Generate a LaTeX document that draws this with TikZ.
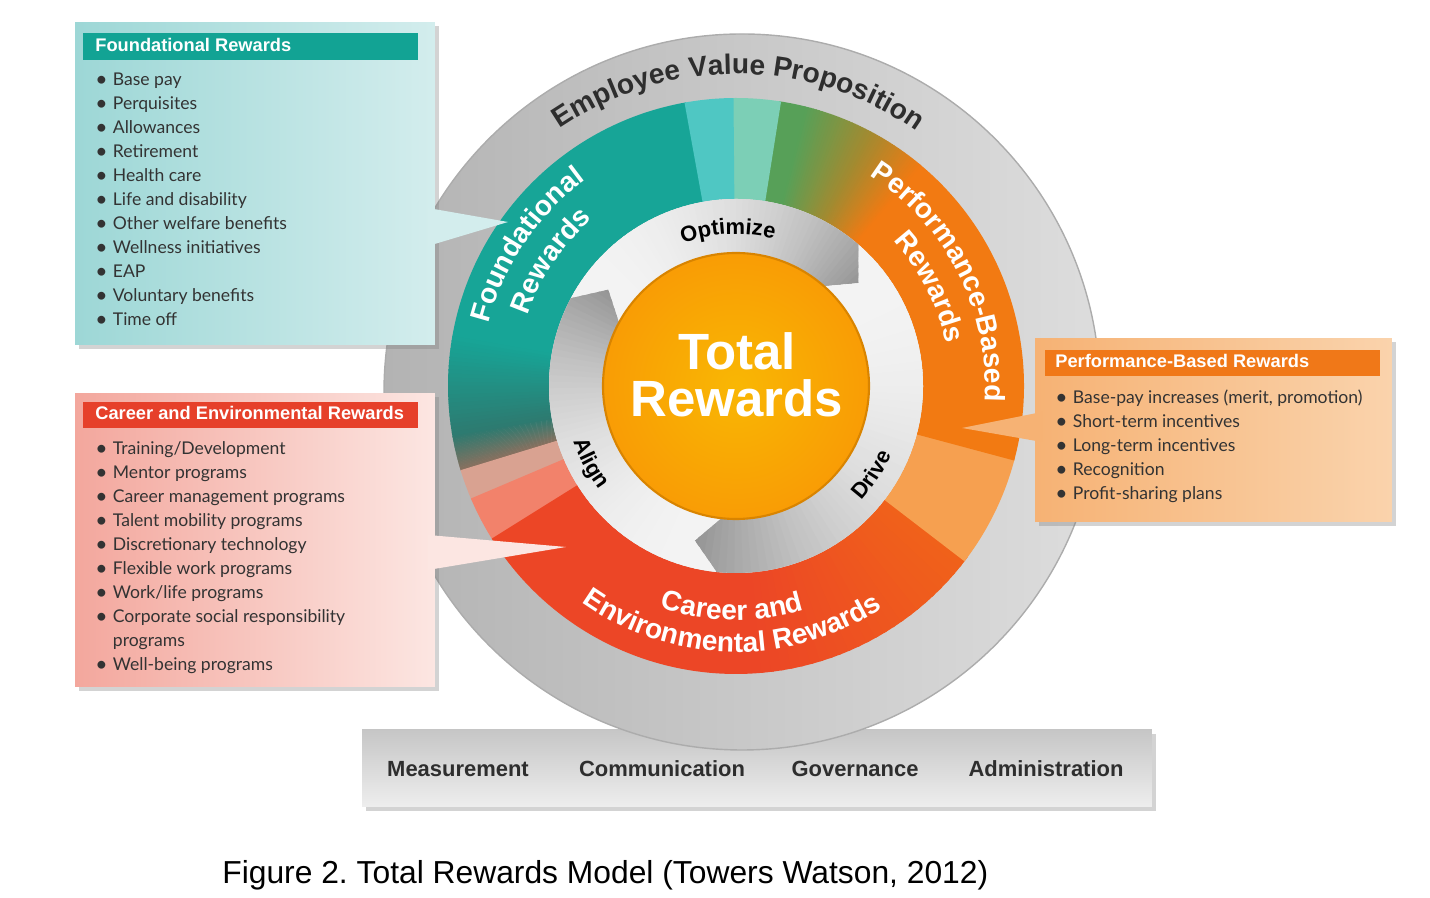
\documentclass[tikz,border=0pt]{standalone}
\usepackage{fontspec}
\setmainfont{Liberation Sans}
\newfontfamily\listfont{Lato}
\usetikzlibrary{positioning}
\usetikzlibrary{shadows}
\usetikzlibrary{decorations.text}

\definecolor{tealring}{HTML}{17A597}
\definecolor{tealdark}{HTML}{2D7A70}
\definecolor{brownring}{HTML}{88705F}
\definecolor{dustpink}{HTML}{D9A291}
\definecolor{salmonring}{HTML}{F2826B}
\definecolor{redring}{HTML}{EC4626}
\definecolor{orangered}{HTML}{F0621A}
\definecolor{lightorange}{HTML}{F6A050}
\definecolor{orangering}{HTML}{F27A12}
\definecolor{olivering}{HTML}{A38A30}
\definecolor{greenring}{HTML}{57A058}
\definecolor{mintring}{HTML}{7CCFB6}
\definecolor{lightteal}{HTML}{4FC7C3}
\definecolor{coreorange}{HTML}{F8AA05}
\definecolor{corerim}{HTML}{D98400}
\definecolor{cyclight}{HTML}{F3F3F3}
\definecolor{cycdark}{HTML}{929292}
\definecolor{outerL}{HTML}{B3B3B3}
\definecolor{outerR}{HTML}{DDDDDD}
\definecolor{inkgray}{HTML}{2E2E2E}
\definecolor{listink}{HTML}{333333}
\definecolor{fboxL}{HTML}{9DD7D6}
\definecolor{fboxR}{HTML}{D3EDED}
\definecolor{fhead}{HTML}{12A394}
\definecolor{cboxL}{HTML}{F3A79D}
\definecolor{cboxR}{HTML}{FCE6E2}
\definecolor{chead}{HTML}{E6402A}
\definecolor{pboxL}{HTML}{F6B274}
\definecolor{pboxR}{HTML}{FAD3AC}
\definecolor{phead}{HTML}{F07818}
\definecolor{barTop}{HTML}{C6C6C6}
\definecolor{barBot}{HTML}{EEEEEE}

\newcommand\ringfont{\fontsize{16}{16}\selectfont\bfseries}
\newcommand\evpfont{\fontsize{16}{16}\selectfont\bfseries}
\newcommand\cyclefont{\fontsize{12.5}{12.5}\selectfont\bfseries}
\newcommand\itm[1]{\makebox[10pt][l]{\raisebox{-0.4pt}{\fontsize{12}{12}\selectfont\textbullet}}#1}
\newcommand\cont[1]{\hspace*{10pt}#1}

% annular sector: from angle, to angle, outer r, inner r, colour
\newcommand\band[5]{\fill[#5] (#1:#3) arc[start angle=#1, end angle=#2, radius=#3] -- (#2:#4) arc[start angle=#2, end angle=#1, radius=#4] -- cycle;}
% same, fading from one colour to another
\newcommand\bandfade[6]{%
  \foreach \k in {0,...,23}{%
    \pgfmathsetmacro\angA{#1+(#2-#1)*\k/24}%
    \pgfmathsetmacro\angB{#1+(#2-#1)*(\k+1.3)/24}%
    \pgfmathtruncatemacro\pp{100-100*(\k+0.5)/24}%
    \band{\angA}{\angB}{#3}{#4}{#5!\pp!#6}%
  }}
% one arrow of the inner cycle: tail angle, head angle (clockwise)
\newcommand\cycleseg[2]{%
  \begin{scope}
    \clip (#1:187) arc[start angle=#1, end angle=#2, radius=187] -- (#2-9:160) -- (#2:132) arc[start angle=#2, end angle=#1, radius=132] -- (#1-9:160) -- cycle;
    \foreach \k in {0,...,59}{%
      \pgfmathsetmacro\angA{#1+(#2-10-#1)*\k/60}%
      \pgfmathsetmacro\angB{#1+(#2-10-#1)*(\k+1.4)/60}%
      \pgfmathtruncatemacro\pp{100*((\k+0.5)/60)^2.4}%
      \band{\angA}{\angB}{190}{128}{cycdark!\pp!cyclight}%
    }
  \end{scope}}

\tikzset{
  infobox/.style={rectangle, inner sep=0pt, drop shadow={opacity=0.35, shadow xshift=2.5pt, shadow yshift=-2.5pt}},
  headbar/.style={rectangle, inner sep=0pt, minimum width=6.7cm, minimum height=0.53cm},
  headtext/.style={anchor=base west, inner sep=0pt, text=white, font=\fontsize{10.4}{11}\selectfont\bfseries},
  itemline/.style={anchor=base west, inner sep=0pt, text=listink, font=\listfont\fontsize{10}{12}\selectfont},
  basebar/.style={rectangle, inner sep=0pt, minimum width=15.8cm, minimum height=1.54cm, top color=barTop, bottom color=barBot, drop shadow={opacity=0.35, shadow xshift=2.5pt, shadow yshift=-2.5pt}},
  barlabel/.style={anchor=base, inner sep=0pt, text=inkgray, font=\fontsize{12.5}{13}\selectfont\bfseries},
  figcaption/.style={anchor=base west, inner sep=0pt, text=black, font=\fontsize{18.1}{20}\selectfont\frenchspacing},
  corelabel/.style={anchor=base, inner sep=0pt, text=white, font=\fontsize{29}{29}\selectfont\bfseries},
  ringtext/.style={decorate, decoration={text along path, text align=center, text color=white, text={|\ringfont|#1}}},
  cycletext/.style={decorate, decoration={text along path, text align=center, text color=black, text={|\cyclefont|#1}}},
  evptext/.style={decorate, decoration={text along path, text align=center, text color=inkgray, text={|\evpfont|#1}}}
}

\begin{document}
\begin{tikzpicture}[x=0.02cm, y=0.02cm]
  \useasboundingbox (0,0) rectangle (1430,898);

  % base bar
  \node[basebar] (bar) at (757,129.5) {};

  % outer ring
  \begin{scope}[shift={(742,506)}]
    \shade[left color=outerL, right color=outerR] (0,0) circle[radius=358];
    \draw[gray!65, line width=0.8] (0,0) circle[radius=358];
  \end{scope}

  \begin{scope}[shift={(736,512)}]
    % coloured ring
    \band{100}{170.5}{288}{187}{tealring}
    \bandfade{170}{190}{288}{187}{tealring}{tealdark}
    \bandfade{190}{197}{288}{187}{tealdark}{brownring}
    \band{197}{203.5}{288}{187}{dustpink}
    \band{203}{212.5}{288}{187}{salmonring}
    \band{212}{275.5}{288}{187}{redring}
    \bandfade{275}{323}{288}{187}{redring}{orangered}
    \band{322.5}{345.5}{288}{187}{lightorange}
    \band{345}{410.5}{288}{187}{orangering}
    \bandfade{410}{422}{288}{187}{orangering}{olivering}
    \bandfade{422}{436}{288}{187}{olivering}{greenring}
    \band{436}{441.5}{288}{187}{greenring}
    \band{441}{450.8}{288}{187}{mintring}
    \band{450.5}{460.3}{288}{187}{lightteal}

    % inner cycle
    \fill[cyclight!80!cycdark] (0,0) circle[radius=187];
    \cycleseg{152}{49}
    \cycleseg{49}{-96}
    \cycleseg{264}{152}

    % core
    \shade[inner color=coreorange!85!yellow, outer color=coreorange!92!red] (0,0) circle[radius=133];
    \draw[corerim, line width=1.2] (0,0) circle[radius=133];
    \node[corelabel] (total) at (1,16) {Total};
    \node[corelabel] (rewards) at (1,-31) {Rewards};

    % curved labels
    \path[evptext={Employee Value Proposition}] (150:312) arc[start angle=150, end angle=29, radius=312];
    \path[ringtext=Foundational] (176:255) arc[start angle=176, end angle=116, radius=255];
    \path[ringtext=Rewards] (176:220) arc[start angle=176, end angle=116, radius=220];
    \path[ringtext=Performance-Based] (72:249) arc[start angle=72, end angle=-18, radius=249];
    \path[ringtext=Rewards] (72:214) arc[start angle=72, end angle=-18, radius=214];
    \path[ringtext={Career and}] (-151:234) arc[start angle=-151, end angle=-31, radius=234];
    \path[ringtext={Environmental Rewards}] (-151:266) arc[start angle=-151, end angle=-31, radius=266];
    \path[cycletext=Optimize] (123:152) arc[start angle=123, end angle=63, radius=152];
    \path[cycletext=Align] (178:172) arc[start angle=178, end angle=238, radius=172];
    \path[cycletext=Drive] (-63:170) arc[start angle=-63, end angle=-3, radius=170];
  \end{scope}

  % bar labels
  \node[barlabel] (meas) at (458,121) {Measurement};
  \node[barlabel] (comm) at (662,121) {Communication};
  \node[barlabel] (gov) at (855,121) {Governance};
  \node[barlabel] (admin) at (1046,121) {Administration};

  % foundational box
  \node[infobox, left color=fboxL, right color=fboxR, minimum width=7.2cm, minimum height=6.46cm] (fbox) at (255,714.5) {};
  \coordinate (ftip) at (508,676);
  \coordinate (fbaseA) at (428,690);
  \coordinate (fbaseB) at (428,652);
  \fill[fboxR] (fbaseA) -- (ftip) -- (fbaseB) -- cycle;
  \node[headbar, fill=fhead] (fhead) at (250.5,851.5) {};
  \node[headtext] (ftitle) at (95,846) {Foundational Rewards};
  \foreach \t [count=\i] in {Base pay, Perquisites, Allowances, Retirement, Health care, Life and disability, Other welfare benefits, Wellness initiatives, EAP, Voluntary benefits, Time off}
    \node[itemline] (fitem\i) at (95,{812-24*(\i-1)}) {\itm{\t}};

  % career box
  \node[infobox, left color=cboxL, right color=cboxR, minimum width=7.2cm, minimum height=5.88cm] (cbox) at (255,358) {};
  \coordinate (ctip) at (566,351);
  \coordinate (cbaseA) at (428,363);
  \coordinate (cbaseB) at (428,328);
  \fill[cboxR] (cbaseA) -- (ctip) -- (cbaseB) -- cycle;
  \node[headbar, fill=chead] (chead) at (250.5,483) {};
  \node[headtext] (ctitle) at (95,478) {Career and Environmental Rewards};
  \foreach \m/\t [count=\i] in {\itm/{Training/Development}, \itm/Mentor programs, \itm/Career management programs, \itm/Talent mobility programs, \itm/Discretionary technology, \itm/Flexible work programs, \itm/{Work/life programs}, \itm/Corporate social responsibility, \cont/programs, \itm/Well-being programs}
    \node[itemline] (citem\i) at (95,{443-24*(\i-1)}) {\m{\t}};

  % performance box
  \node[infobox, left color=pboxL, right color=pboxR, minimum width=7.14cm, minimum height=3.68cm] (pbox) at (1213.5,468) {};
  \coordinate (ptip) at (962,470);
  \coordinate (pbaseA) at (1042,486);
  \coordinate (pbaseB) at (1042,456);
  \fill[pboxL] (pbaseA) -- (ptip) -- (pbaseB) -- cycle;
  \node[headbar, fill=phead] (phead) at (1212.5,535) {};
  \node[headtext] (ptitle) at (1055,530) {Performance-Based Rewards};
  \foreach \t [count=\i] in {{Base-pay increases (merit, promotion)}, Short-term incentives, Long-term incentives, Recognition, Profit-sharing plans}
    \node[itemline] (pitem\i) at (1055,{494-24*(\i-1)}) {\itm{\t}};

  % caption
  \node[figcaption] (cap) at (222,14) {Figure 2. Total Rewards Model (Towers Watson, 2012)};
\end{tikzpicture}
\end{document}
